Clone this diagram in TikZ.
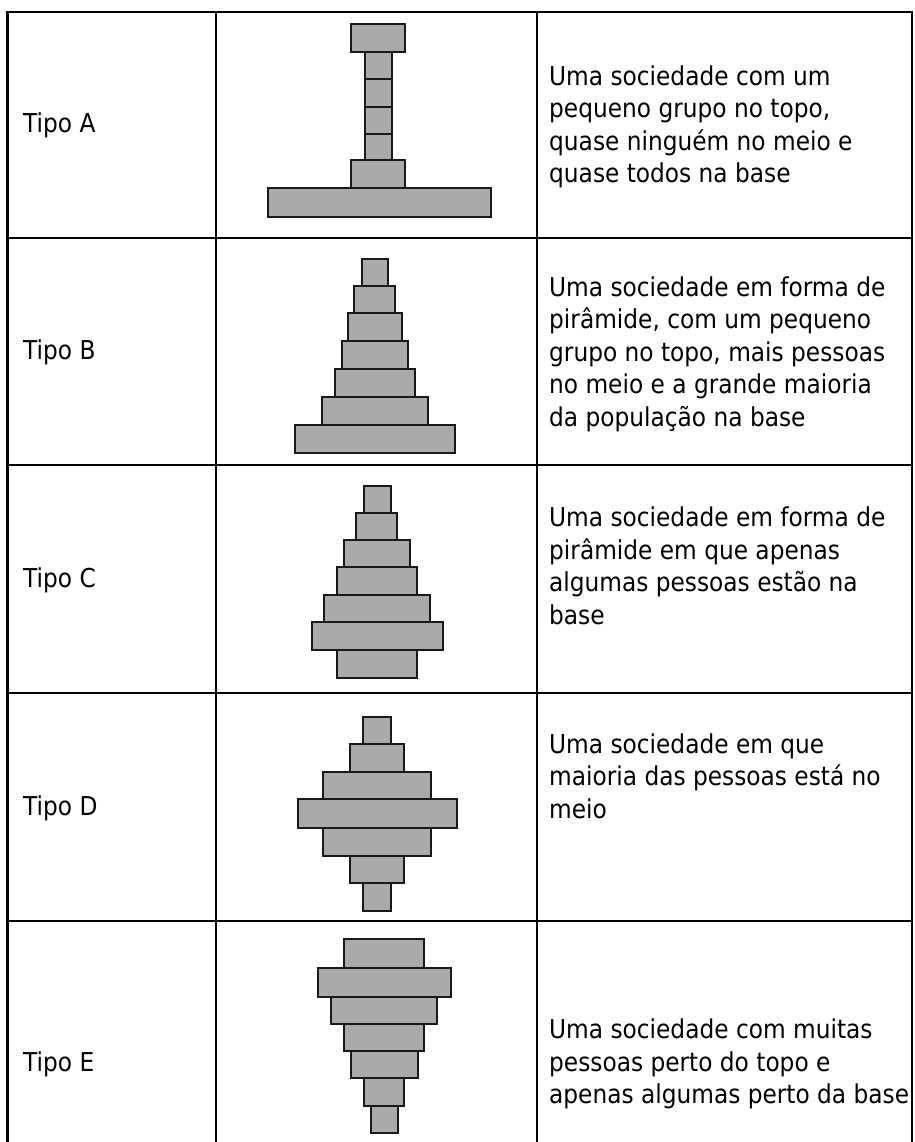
\documentclass[tikz,border=0pt]{standalone}
\usepackage{fontspec}
\setmainfont{DejaVu Sans}[FakeStretch=0.895]
\begin{document}
\begin{tikzpicture}[x=1pt,y=-1pt,
  gridline/.style={line width=2.6pt,black},
  barbox/.style={draw=black!90,line width=1.8pt,fill={rgb,255:red,170;green,170;blue,170}},
  label/.style={anchor=west,inner sep=0pt,font=\fontsize{26}{32.5}\selectfont},
  desc/.style={anchor=west,inner sep=0pt,align=left,font=\fontsize{26}{32.5}\selectfont}]
\useasboundingbox (0,0) rectangle (914,1142);
\fill[white] (0,0) rectangle (914,1142);
\newcommand\pbar[4]{\draw[barbox] (#1,#3) rectangle (#2,#4);}
% grid
\coordinate (tl) at (7.5,12);
\coordinate (tr) at (912,12);
\draw[gridline] (7.5,1142) -- (tl) -- (tr) -- (912,1142);
\draw[gridline] (216,12) -- (216,1142);
\draw[gridline] (537,12) -- (537,1142);
\foreach \yy in {238,465,693,921} \draw[gridline] (7.5,\yy) -- (912,\yy);
% labels
\node[label] (la) at (23,125) {Tipo A};
\node[label] (lb) at (23,352) {Tipo B};
\node[label] (lc) at (23,580) {Tipo C};
\node[label] (ld) at (23,808) {Tipo D};
\node[label] (le) at (23,1064) {Tipo E};
% descriptions
\node[desc] (da) at (549,127) {Uma sociedade com um\\pequeno grupo no topo,\\quase ningu\'em no meio e\\quase todos na base};
\node[desc] (db) at (549,354) {Uma sociedade em forma de\\pir\^amide, com um pequeno\\grupo no topo, mais pessoas\\no meio e a grande maioria\\da popula\c{c}\~ao na base};
\node[desc] (dc) at (549,566) {Uma sociedade em forma de\\pir\^amide em que apenas\\algumas pessoas est\~ao na\\base};
\node[desc] (dd) at (549,776) {Uma sociedade em que\\maioria das pessoas est\'a no\\meio};
\node[desc] (de) at (549,1064) {Uma sociedade com muitas\\pessoas perto do topo e\\apenas algumas perto da base};
% Tipo A
\pbar{351}{405}{24}{52}
\pbar{365}{392}{52}{79}
\pbar{365}{392}{79}{107}
\pbar{365}{392}{107}{134}
\pbar{365}{392}{134}{160}
\pbar{351}{405}{160}{188}
\pbar{268}{491}{188}{217}
% Tipo B
\pbar{362}{388}{259}{286}
\pbar{354}{395}{286}{313}
\pbar{348}{402}{313}{341}
\pbar{342}{408}{341}{369}
\pbar{335}{415}{369}{397}
\pbar{322}{428}{397}{425}
\pbar{295}{455}{425}{453}
% Tipo C
\pbar{364}{391}{486}{513}
\pbar{356}{397}{513}{540}
\pbar{344}{410}{540}{567}
\pbar{337}{417}{567}{595}
\pbar{324}{430}{595}{622}
\pbar{312}{443}{622}{650}
\pbar{337}{417}{650}{678}
% Tipo D
\pbar{363}{391}{717}{744}
\pbar{350}{404}{744}{772}
\pbar{323}{431}{772}{799}
\pbar{298}{457}{799}{828}
\pbar{323}{431}{828}{856}
\pbar{350}{404}{856}{883}
\pbar{363}{391}{883}{911}
% Tipo E
\pbar{344}{424}{939}{968}
\pbar{318}{451}{968}{997}
\pbar{331}{437}{997}{1024}
\pbar{344}{424}{1024}{1051}
\pbar{351}{418}{1051}{1078}
\pbar{364}{404}{1078}{1106}
\pbar{371}{398}{1106}{1133}
\end{tikzpicture}
\end{document}
